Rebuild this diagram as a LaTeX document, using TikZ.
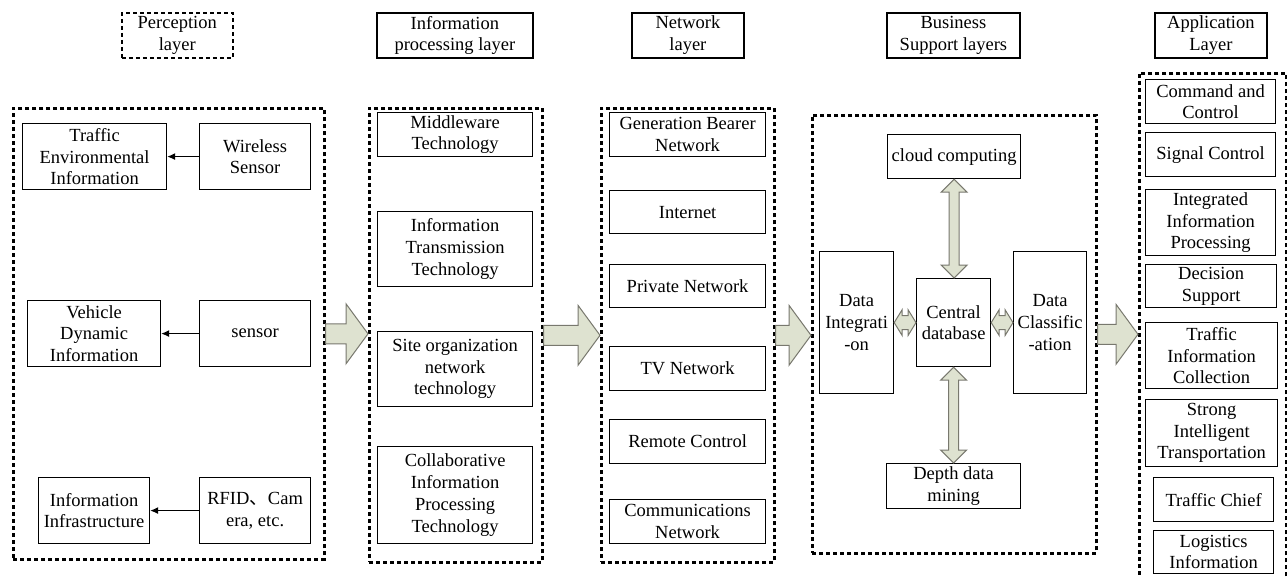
\documentclass[tikz,border=0pt]{standalone}
\usepackage{fontspec}
\newfontfamily\tnr{LiberationSerif}[Extension=.ttf,UprightFont=*-Regular,BoldFont=*-Bold]
\newfontfamily\cjk{Noto Sans CJK SC}
\usetikzlibrary{arrows.meta,calc}
\definecolor{arrfill}{RGB}{222,226,208}
\definecolor{arrdraw}{RGB}{120,120,110}
\newcommand\mybox[7][]{\node[box,#1,anchor=north west,minimum width={(#5)-(#3)},minimum height={(#6)-(#4)}] (#2) at (#3,#4) {#7};}
\newcommand\mygroup[5]{\node[grp,anchor=north west,minimum width={(#4)-(#2)},minimum height={(#5)-(#3)}] (#1) at (#2,#3) {};}
\newcommand\bigarrow[2]{%
  \path (#1.east) coordinate (ba) (#2.west) coordinate (bb);
  \draw[blk] let \p1=(ba), \p2=(bb) in
    (\x1,\y1+10) -- (\x2-22,\y1+10) -- (\x2-22,\y1+30) -- (\x2,\y1)
    -- (\x2-22,\y1-30) -- (\x2-22,\y1-10) -- (\x1,\y1-10) -- cycle;}
\newcommand\vdarrow[2]{%
  \path (#1.south) coordinate (va) (#2.north) coordinate (vb);
  \draw[blk] let \p1=(va), \p2=(vb) in
    (\x1,\y1) -- (\x1+13,\y1-13) -- (\x1+5,\y1-13) -- (\x1+5,\y2+13) -- (\x1+13,\y2+13)
    -- (\x1,\y2) -- (\x1-13,\y2+13) -- (\x1-5,\y2+13) -- (\x1-5,\y1-13) -- (\x1-13,\y1-13) -- cycle;}
\newcommand\hdarrow[2]{%
  \path (#1.east) coordinate (ha) (#2.west) coordinate (hb);
  \draw[blk] let \p1=(ha), \p2=(hb) in
    (\x1,\y1) -- (\x1+8,\y1+13) -- (\x1+8,\y1+7) -- (\x2-8,\y1+7) -- (\x2-8,\y1+13)
    -- (\x2,\y1) -- (\x2-8,\y1-13) -- (\x2-8,\y1-7) -- (\x1+8,\y1-7) -- (\x1+8,\y1-13) -- cycle;}
\begin{document}
\begin{tikzpicture}[x=1pt,y=-1pt,
  box/.style={draw,line width=1.2pt,align=center,inner sep=0pt,font=\tnr\fontsize{18.5}{21.7}\selectfont},
  hdr/.style={line width=1.8pt},
  hdrdash/.style={line width=1.5pt,dash pattern=on 4pt off 3pt},
  grp/.style={draw,line width=2.6pt,dash pattern=on 4pt off 3pt,inner sep=0pt},
  blk/.style={fill=arrfill,draw=arrdraw,line width=1pt,line join=miter},
  conn/.style={line width=1pt,-{Latex[length=8pt,width=7pt]}}]
\useasboundingbox (0,0) rectangle (1287,576);

% headers
\mybox[hdrdash]{h1}{121}{12}{232}{57}{Perception\\layer}
\mybox[hdr]{h2}{376}{12}{532}{57}{Information\\processing layer}
\mybox[hdr]{h3}{631}{12}{743}{57}{Network\\layer}
\mybox[hdr]{h4}{886}{12}{1019}{57}{Business\\Support layers}
\mybox[hdr]{h5}{1154}{12}{1266}{57}{Application\\Layer}

% groups
\mygroup{pg}{12}{107}{323}{558}
\mygroup{ip}{368}{107}{541}{561}
\mygroup{nw}{600}{107}{773}{561}
\mygroup{bs}{811}{114}{1095}{552}
\mygroup{ap}{1138}{72}{1285}{582}

% perception layer
\mybox{tei}{22}{123}{166}{189}{Traffic\\Environmental\\Information}
\mybox{ws}{199}{123}{310}{189}{Wireless\\Sensor}
\mybox{vdi}{27}{300}{160}{366}{Vehicle\\Dynamic\\Information}
\mybox{sen}{199}{300}{310}{366}{sensor}
\mybox{ii}{38}{477}{149}{543}{Information\\Infrastructure}
\mybox{rfid}{199}{477}{310}{543}{RFID{\cjk 、}Cam\\era, etc.}
\draw[conn] (ws) -- (tei);
\draw[conn] (sen) -- (vdi);
\draw[conn] (rfid) -- (ii);

% information processing layer
\mybox{mw}{377}{112}{532}{156}{Middleware\\Technology}
\mybox{itt}{377}{211}{532}{286}{Information\\Transmission\\Technology}
\mybox{sont}{377}{331}{532}{406}{Site organization\\network\\technology}
\mybox{cipt}{377}{446}{532}{543}{Collaborative\\Information\\Processing\\Technology}

% network layer
\mybox{gbn}{609}{112}{765}{156}{Generation Bearer\\Network}
\mybox{inet}{609}{190}{765}{233}{Internet}
\mybox{pn}{609}{264}{765}{307}{Private Network}
\mybox{tv}{609}{346}{765}{390}{TV Network}
\mybox{rc}{609}{419}{765}{463}{Remote Control}
\mybox{cn}{609}{499}{765}{543}{Communications\\Network}

% business support layer
\mybox{cc}{887}{134}{1020}{178}{cloud computing}
\mybox{di}{819}{251}{893}{393}{Data\\Integrati\\-on}
\mybox{cdb}{916}{278}{990}{366}{Central\\database}
\mybox{dc}{1013}{251}{1086}{393}{Data\\Classific\\-ation}
\mybox{ddm}{886}{463}{1020}{508}{Depth data\\mining}
\vdarrow{cc}{cdb}
\vdarrow{cdb}{ddm}
\hdarrow{di}{cdb}
\hdarrow{cdb}{dc}

% application layer
\mybox{cac}{1145}{79}{1275}{123}{Command and\\Control}
\mybox{sc}{1145}{132}{1275}{176}{Signal Control}
\mybox{iip}{1145}{189}{1275}{255}{Integrated\\Information\\Processing}
\mybox{ds}{1145}{264}{1276}{307}{Decision\\Support}
\mybox{tic}{1145}{322}{1277}{388}{Traffic\\Information\\Collection}
\mybox{sit}{1145}{399}{1277}{466}{Strong\\Intelligent\\Transportation}
\mybox{tch}{1153}{477}{1273}{521}{Traffic Chief}
\mybox{li}{1153}{530}{1273}{573}{Logistics\\Information}

% layer arrows
\bigarrow{pg}{ip}
\bigarrow{ip}{nw}
\bigarrow{nw}{bs}
\bigarrow{bs}{ap}
\end{tikzpicture}
\end{document}
